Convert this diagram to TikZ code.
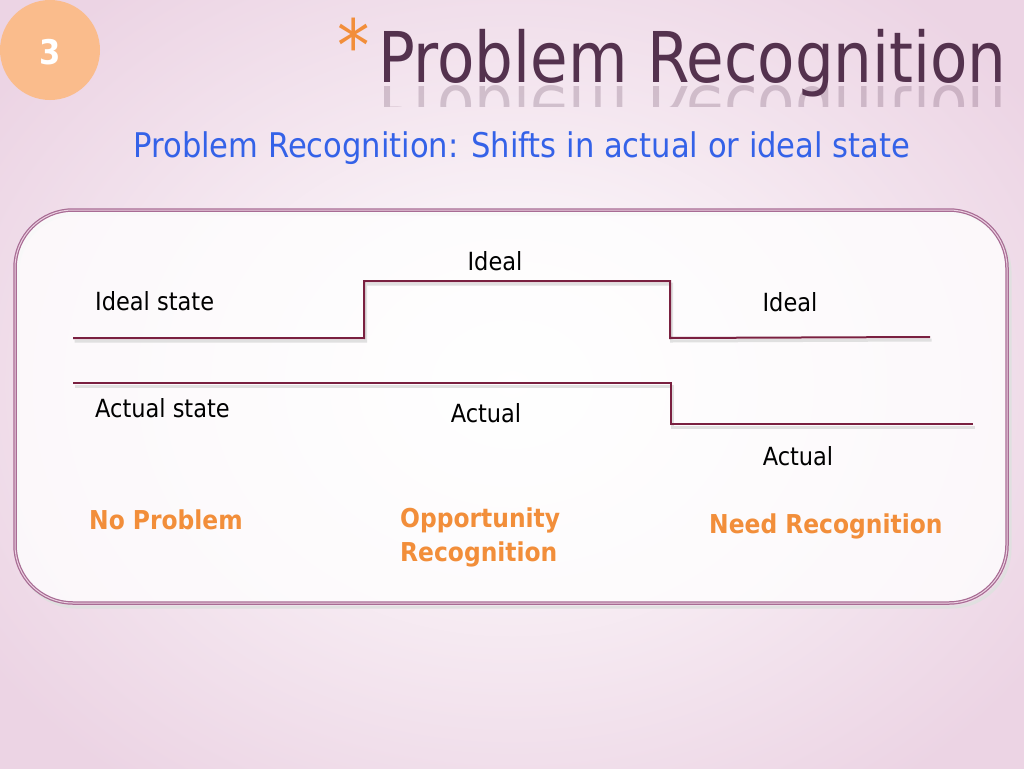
\documentclass[tikz,border=0pt]{standalone}
\usepackage{fontspec}
\setmainfont{DejaVu Sans Condensed}
\usepackage{tikz}
\usetikzlibrary{positioning, calc}
\definecolor{bgpink}{RGB}{236,212,228}
\definecolor{peach}{RGB}{250,188,140}
\definecolor{wine}{RGB}{122,32,64}
\definecolor{frame}{RGB}{168,108,148}
\definecolor{framelight}{RGB}{236,210,226}
\definecolor{orangetext}{RGB}{242,142,58}
\definecolor{bluetext}{RGB}{52,98,232}
\definecolor{titlegray}{RGB}{84,50,78}
\tikzset{
    state_label/.style={inner sep=0pt, font=\fontsize{25}{30}\selectfont, text=black},
    case_label/.style={inner sep=0pt, font=\fontsize{26}{34}\selectfont\bfseries, text=orangetext, align=left},
    state_line/.style={draw=wine, line width=2pt, preaction={draw=black!12, line width=3pt, transform canvas={shift={(1.5pt,-3pt)}}}},
    title_text/.style={inner sep=0pt, xscale=0.97, font=\fontsize{70}{70}\selectfont}
}

\begin{document}
\begin{tikzpicture}[x=1pt, y=-1pt]
    \useasboundingbox (0,0) rectangle (1024,768);
    \shade[inner color=white, outer color=bgpink] (-120,-120) rectangle (1144,888);

    % header
    \fill[peach] (50,50) circle (50);
    \node (num) at (50,52) [inner sep=0pt, text=white, font=\fontsize{34}{40}\selectfont\bfseries] {3};
    \node (star) at (337,18) [anchor=north west, inner sep=0pt, text=orangetext, font=\fontsize{72}{72}\selectfont] {*};
    \node (title) at (378,82) [title_text, anchor=base west, text=titlegray] {Problem Recognition};
    \begin{scope}
        \clip (370,84) rectangle (1015,106);
        \node (mirror) at (378,86) [title_text, anchor=base west, yscale=-1, text=titlegray, text opacity=0.22] {Problem Recognition};
    \end{scope}
    \node (subtitle) at (522,148) [inner sep=0pt, text=bluetext, font=\fontsize{34}{40}\selectfont] {Problem Recognition: Shifts in actual or ideal state};

    % panel
    \draw[black!12, line width=3pt, rounded corners=58pt] (18,214) rectangle (1010,607);
    \draw[fill=white, fill opacity=0.8, draw=frame, line width=3.5pt, rounded corners=58pt] (15,210) rectangle (1007,603);
    \draw[draw=framelight, line width=1pt, rounded corners=58pt] (15,210) rectangle (1007,603);

    % ideal and actual levels
    \coordinate (i0) at (73,338);
    \coordinate (i1) at (364,338);
    \coordinate (i2) at (364,281);
    \coordinate (i3) at (670,281);
    \coordinate (i4) at (670,338);
    \coordinate (i5) at (930,337);
    \coordinate (a0) at (73,383);
    \coordinate (a1) at (671,383);
    \coordinate (a2) at (671,424);
    \coordinate (a3) at (973,424);
    \draw[state_line] (i0) -- (i1) -- (i2) -- (i3) -- (i4) -- (i5);
    \draw[state_line] (a0) -- (a1) -- (a2) -- (a3);

    \node (idealstate) at (95,301) [state_label, anchor=west] {Ideal state};
    \node (actualstate) at (95,408) [state_label, anchor=west] {Actual state};
    \node (ideal2) at (495,261) [state_label] {Ideal};
    \node (actual2) at (486,413) [state_label] {Actual};
    \node (ideal3) at (790,302) [state_label] {Ideal};
    \node (actual3) at (798,456) [state_label] {Actual};

    \node (noproblem) at (89,520) [case_label, anchor=west] {No Problem};
    \node (opportunity) at (400,537) [case_label, anchor=west] {Opportunity\\Recognition};
    \node (need) at (709,526) [case_label, anchor=west] {Need Recognition};
\end{tikzpicture}
\end{document}
